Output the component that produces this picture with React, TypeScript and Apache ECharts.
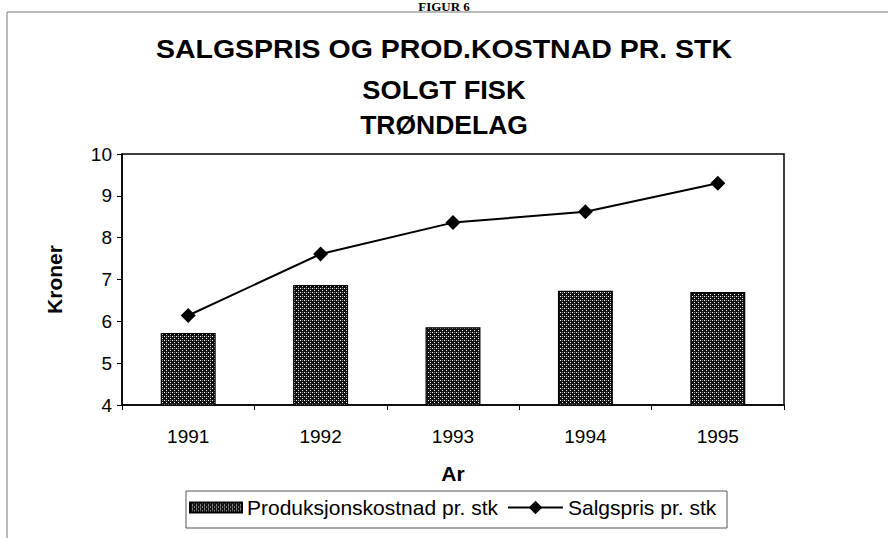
import React, { useEffect, useRef } from "react";
import * as echarts from "echarts";

const years = ["1991", "1992", "1993", "1994", "1995"];
const prodCost = [5.72, 6.87, 5.86, 6.73, 6.7];
const salesPrice = [6.14, 7.61, 8.36, 8.62, 9.3];
const titleLines = ["SALGSPRIS OG PROD.KOSTNAD PR. STK", "SOLGT FISK", "TRØNDELAG"];
const seriesNames = ["Produksjonskostnad pr. stk", "Salgspris pr. stk"];

function makePattern(): HTMLCanvasElement {
  const c = document.createElement("canvas");
  c.width = 4;
  c.height = 4;
  const ctx = c.getContext("2d")!;
  ctx.fillStyle = "#111111";
  ctx.fillRect(0, 0, 4, 4);
  ctx.fillStyle = "#ffffff";
  ctx.fillRect(0, 0, 1, 1);
  ctx.fillRect(2, 2, 1, 1);
  ctx.fillStyle = "#8a8a8a";
  ctx.fillRect(2, 0, 1, 1);
  return c;
}

export default function App() {
  const ref = useRef<HTMLDivElement>(null);
  useEffect(() => {
    if (!ref.current) return;
    const chart = echarts.init(ref.current, undefined, { renderer: "svg" });
    const pattern = { image: makePattern(), repeat: "repeat" } as any;
    const sans = '"Liberation Sans", Arial, sans-serif';
    const titleY = [50, 90, 125];
    const titleScale = [1.14, 1.09, 1.06];
    const legendText = { fontFamily: sans, fontSize: 21, color: "#000" };
    chart.setOption({
      animation: false,
      backgroundColor: "#ffffff",
      textStyle: { fontFamily: sans, color: "#000" },
      graphic: [
        {
          type: "rect",
          shape: { x: 7, y: 12, width: 900, height: 600 },
          style: { fill: "none", stroke: "#777", lineWidth: 1 },
          silent: true,
        },
        {
          type: "rect",
          shape: { x: 186, y: 491, width: 541, height: 37 },
          style: { fill: "none", stroke: "#555", lineWidth: 1 },
          silent: true,
        },
        {
          type: "text",
          x: 444,
          y: 0,
          style: {
            text: "FIGUR 6",
            font: 'bold 13px "Liberation Serif", serif',
            fill: "#000",
            align: "center",
            verticalAlign: "top",
          },
        },
        ...titleLines.map((t, i) => ({
          type: "text",
          x: 444,
          y: titleY[i],
          scaleX: titleScale[i],
          style: {
            text: t,
            font: `bold 25px ${sans}`,
            fill: "#000",
            align: "center",
            verticalAlign: "middle",
          },
        })),
      ],
      grid: {
        left: 122,
        right: 104,
        top: 154,
        bottom: 133,
        show: true,
        borderColor: "#000",
        borderWidth: 1.5,
      },
      legend: [
        {
          left: 189,
          top: 497,
          padding: 0,
          itemWidth: 52,
          itemHeight: 10,
          textStyle: legendText,
          data: [{ name: seriesNames[0], icon: "rect" }],
        },
        {
          left: 507,
          top: 497,
          padding: 0,
          itemWidth: 55,
          itemHeight: 17,
          textStyle: legendText,
          data: [{ name: seriesNames[1] }],
        },
      ],
      xAxis: {
        type: "category",
        data: years,
        boundaryGap: true,
        name: "Ar",
        nameLocation: "middle",
        nameGap: 58,
        nameTextStyle: { fontFamily: sans, fontSize: 21, fontWeight: "bold", color: "#000" },
        axisLine: { lineStyle: { color: "#000", width: 1.5 } },
        axisTick: { show: true, length: 5, lineStyle: { color: "#000" } },
        axisLabel: { fontSize: 19, color: "#000", margin: 22, fontFamily: sans },
        splitLine: { show: false },
      },
      yAxis: {
        type: "value",
        min: 4,
        max: 10,
        interval: 1,
        name: "Kroner",
        nameLocation: "middle",
        nameRotate: 90,
        nameGap: 57,
        nameTextStyle: { fontFamily: sans, fontSize: 21, fontWeight: "bold", color: "#000" },
        axisLine: { show: true, lineStyle: { color: "#000", width: 1.5 } },
        axisTick: { show: true, length: 5, lineStyle: { color: "#000" } },
        axisLabel: { fontSize: 19, color: "#000", margin: 10, fontFamily: sans },
        splitLine: { show: false },
      },
      series: [
        {
          name: seriesNames[0],
          type: "bar",
          data: prodCost,
          barWidth: "41.5%",
          itemStyle: { color: pattern, borderColor: "#000", borderWidth: 1.2 },
        },
        {
          name: seriesNames[1],
          type: "line",
          data: salesPrice,
          symbol: "diamond",
          symbolSize: 15,
          lineStyle: { color: "#000", width: 2 },
          itemStyle: { color: "#000" },
          z: 5,
        },
      ],
    });
    return () => chart.dispose();
  }, []);
  return (
    <div
      ref={ref}
      style={{ position: "fixed", left: 0, top: 0, width: 888, height: 538 }}
    />
  );
}
